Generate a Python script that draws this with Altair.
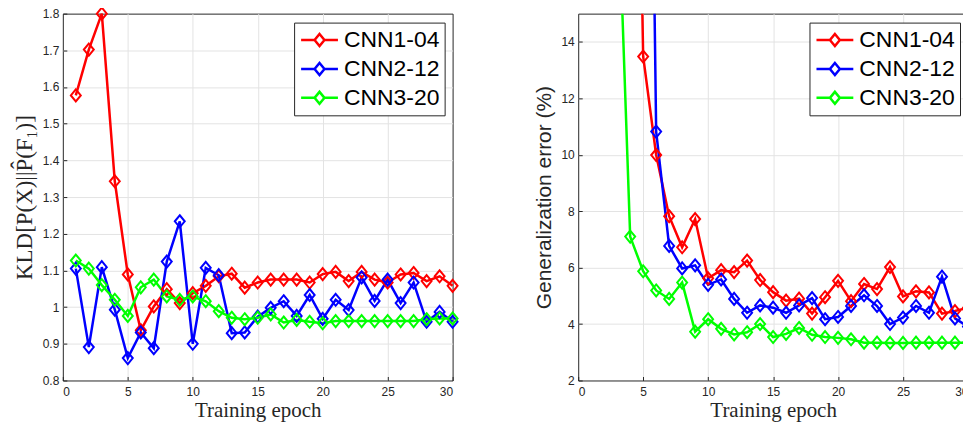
import altair as alt
import pandas as pd

epochs = list(range(1, 31))
series = ["CNN1-04", "CNN2-12", "CNN3-20"]
colors = ["#ff0000", "#0000ff", "#00ff00"]

kld_cnn1 = [1.577, 1.702, 1.800, 1.343, 1.089, 0.937, 1.002, 1.049, 1.011, 1.038,
            1.058, 1.084, 1.091, 1.053, 1.067, 1.075, 1.075, 1.075, 1.067, 1.090,
            1.096, 1.071, 1.096, 1.075, 1.067, 1.089, 1.093, 1.071, 1.084, 1.058]
kld_cnn2 = [1.105, 0.891, 1.109, 0.993, 0.861, 0.931, 0.888, 1.124, 1.234, 0.900,
            1.107, 1.087, 0.929, 0.931, 0.974, 0.998, 1.016, 0.976, 1.033, 0.968,
            1.020, 0.992, 1.081, 1.017, 1.075, 1.011, 1.067, 0.960, 0.987, 0.960]
kld_cnn3 = [1.127, 1.105, 1.060, 1.020, 0.976, 1.054, 1.075, 1.029, 1.020, 1.029,
            1.016, 0.989, 0.971, 0.967, 0.971, 0.980, 0.958, 0.965, 0.960, 0.956,
            0.962, 0.962, 0.962, 0.962, 0.962, 0.962, 0.962, 0.967, 0.969, 0.969]

# generalization error (%); first listed values lie above the top of the axis
err_epochs_cnn1 = list(range(4, 31))
err_cnn1 = [38.5, 13.48, 9.99, 7.82, 6.72, 7.72, 5.62, 5.91, 5.84, 6.25,
            5.56, 5.13, 4.83, 4.90, 4.37, 4.95, 5.53, 4.81, 5.42, 5.24,
            6.02, 4.98, 5.16, 5.12, 4.37, 4.46, 4.58]
err_epochs_cnn2 = list(range(5, 31))
err_cnn2 = [45.6, 10.82, 6.77, 5.97, 6.08, 5.39, 5.58, 4.89, 4.40, 4.66,
            4.58, 4.40, 4.66, 4.92, 4.17, 4.25, 4.64, 5.02, 4.64, 4.00,
            4.23, 4.64, 4.40, 5.68, 4.20, 3.91]
err_epochs_cnn3 = list(range(3, 31))
err_cnn3 = [20.3, 7.10, 5.87, 5.19, 4.89, 5.47, 3.73, 4.17, 3.83, 3.63,
            3.71, 4.00, 3.54, 3.65, 3.86, 3.62, 3.54, 3.51, 3.46, 3.34,
            3.34, 3.33, 3.33, 3.34, 3.34, 3.34, 3.34, 3.34]

x_ticks = [0, 5, 10, 15, 20, 25, 30]
kld_ticks = [0.8, 0.9, 1.0, 1.1, 1.2, 1.3, 1.4, 1.5, 1.6, 1.7, 1.8]
err_ticks = [2, 4, 6, 8, 10, 12, 14]

kld_df = pd.concat([
    pd.DataFrame({"epoch": epochs, "value": v, "model": s})
    for s, v in zip(series, [kld_cnn1, kld_cnn2, kld_cnn3])
])
err_df = pd.concat([
    pd.DataFrame({"epoch": e, "value": v, "model": s})
    for s, e, v in zip(series,
                       [err_epochs_cnn1, err_epochs_cnn2, err_epochs_cnn3],
                       [err_cnn1, err_cnn2, err_cnn3])
])

W, H = 391, 368
TICK = "#262626"
GRID = "#e3e3e3"
legend_symbol = "M-1.68,0L-0.45,0M0.45,0L1.68,0M0,-0.55L0.45,0L0,0.55L-0.45,0Z"
diamond = "M0,-1.15L0.95,0L0,1.15L-0.95,0Z"


def panel(df, ydomain, yticks, ytitle, yfmt, title_font, title_size, clip):
    xscale = alt.Scale(domain=[0, 30], nice=False)
    yscale = alt.Scale(domain=ydomain, nice=False, zero=False)
    color = alt.Color(
        "model:N",
        scale=alt.Scale(domain=series, range=colors),
        legend=alt.Legend(
            title=None, orient="none", legendX=232, legendY=9,
            symbolType=legend_symbol, symbolSize=484, symbolStrokeWidth=2.5,
            symbolOffset=8, symbolFillColor="transparent",
            labelFont="Liberation Sans", labelFontSize=23, labelColor="#000000",
            labelOffset=12, rowPadding=4, padding=5,
            strokeColor="#262626", fillColor="#ffffff",
        ),
    )
    x_edge = "datum.value == 0 || datum.value == 30"
    y_edge = "datum.value <= %s || datum.value >= %s" % (ydomain[0] + 1e-6,
                                                         ydomain[1] - 1e-6)
    x = alt.X("epoch:Q", scale=xscale,
              axis=alt.Axis(values=x_ticks, title="Training epoch",
                            titleFont="Liberation Serif", titleFontSize=21,
                            titleFontWeight="normal", titleColor="#262626",
                            titlePadding=2,
                            labelFont="Liberation Sans", labelFontSize=12,
                            labelColor="#262626", labelPadding=6,
                            tickSize=4, tickColor=TICK, offset=-4,
                            domain=False, grid=True, gridColor=GRID,
                            gridOpacity=alt.condition(x_edge, alt.value(0),
                                                      alt.value(1))))
    y = alt.Y("value:Q", scale=yscale,
              axis=alt.Axis(values=yticks, title=ytitle, format=yfmt,
                            labelOverlap=False,
                            titleFont=title_font, titleFontSize=title_size,
                            titleFontWeight="normal", titleColor="#262626",
                            titlePadding=6,
                            labelFont="Liberation Sans", labelFontSize=12,
                            labelColor="#262626", labelPadding=4,
                            tickSize=4, tickColor=TICK, offset=-4,
                            domain=False, grid=True, gridColor=GRID,
                            gridOpacity=alt.condition(y_edge, alt.value(0),
                                                      alt.value(1))))
    return alt.Chart(df).mark_line(
        strokeWidth=2.5, clip=clip,
        point=alt.OverlayMarkDef(shape=diamond, size=110, strokeWidth=2,
                                 filled=False, opacity=1, clip=clip),
    ).encode(x=x, y=y, color=color).properties(width=W, height=H)


left = panel(kld_df, [0.8, 1.8], kld_ticks, "KLD[P(X)||P\u0302(F\u2081)]", "~g",
             "Liberation Serif", 23, False)
right = panel(err_df, [2, 15], err_ticks, "Generalization error (%)", "d",
              "Liberation Sans", 21, True)

chart = alt.hconcat(left, right, spacing=71).resolve_scale(
    color="independent"
).configure_view(stroke=TICK, strokeWidth=1).properties(
    padding={"left": 4, "top": -6, "right": -6, "bottom": 1}
)

chart.save("out.html", embed_options={"renderer": "svg", "actions": False})
